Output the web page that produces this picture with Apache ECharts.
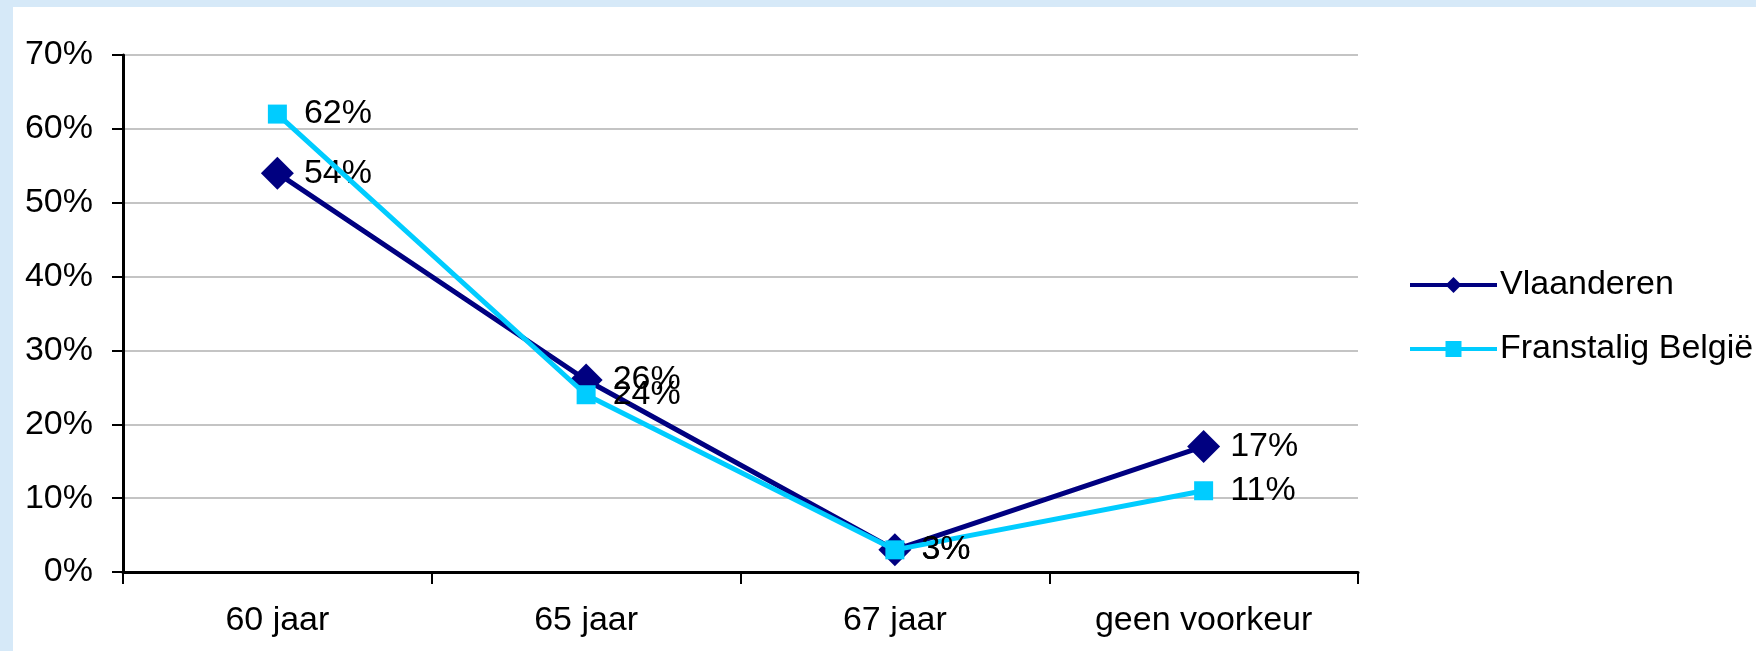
<!DOCTYPE html>
<html>
<head>
<meta charset="utf-8">
<script src="https://cdn.jsdelivr.net/npm/echarts@6/dist/echarts.min.js"></script>
<style>
  html, body { margin: 0; padding: 0; background: #d6e9f8; }
  #chart { position: absolute; left: 13px; top: 7px; width: 1743px; height: 644px; background: #fff; }
</style>
</head>
<body>
<div id="chart"></div>
<script>
var categories = ['60 jaar', '65 jaar', '67 jaar', 'geen voorkeur'];
var vlaanderen = [54, 26, 3, 17];
var franstalig = [62, 24, 3, 11];
var yTicks = { min: 0, max: 70, interval: 10 };

var font = "'Liberation Sans', Arial, sans-serif";
var chart = echarts.init(document.getElementById('chart'));

chart.setOption({
  animation: false,
  textStyle: { fontFamily: font },
  grid: { left: 110, right: 398, top: 48, bottom: 79 },
  legend: {
    orient: 'vertical',
    left: 1390,
    top: 256,
    itemWidth: 87,
    itemHeight: 20,
    itemGap: 30,
    lineStyle: { width: 4 },
    textStyle: { fontFamily: font, fontSize: 34, color: '#000', padding: [0, 0, 0, -2] },
    data: ['Vlaanderen', 'Franstalig België']
  },
  xAxis: {
    type: 'category',
    data: categories,
    boundaryGap: true,
    axisLine: { lineStyle: { color: '#000', width: 3 } },
    axisTick: { show: true, length: 12, lineStyle: { color: '#000', width: 2 } },
    axisLabel: { color: '#000', fontSize: 34, fontFamily: font, margin: 32 },
    splitLine: { show: false }
  },
  yAxis: {
    type: 'value',
    min: yTicks.min,
    max: yTicks.max,
    interval: yTicks.interval,
    axisLine: { show: true, lineStyle: { color: '#000', width: 3 } },
    axisTick: { show: true, length: 11, lineStyle: { color: '#000', width: 2 } },
    axisLabel: { color: '#000', fontSize: 34, fontFamily: font, margin: 30, formatter: '{value}%' },
    splitLine: { lineStyle: { color: '#c4c4c4', width: 2 } }
  },
  series: [
    {
      name: 'Vlaanderen',
      type: 'line',
      data: vlaanderen,
      symbol: 'diamond',
      symbolSize: 33,
      itemStyle: { color: '#000080' },
      lineStyle: { color: '#000080', width: 5 },
      label: {
        show: true,
        position: 'right',
        distance: 10,
        formatter: '{c}%',
        color: '#000',
        fontSize: 34,
        fontFamily: font
      },
      z: 3
    },
    {
      name: 'Franstalig België',
      type: 'line',
      data: franstalig,
      symbol: 'rect',
      symbolSize: 19,
      itemStyle: { color: '#00ccff' },
      lineStyle: { color: '#00ccff', width: 5 },
      label: {
        show: true,
        position: 'right',
        distance: 17,
        formatter: '{c}%',
        color: '#000',
        fontSize: 34,
        fontFamily: font
      },
      z: 4
    }
  ]
});
</script>
</body>
</html>
